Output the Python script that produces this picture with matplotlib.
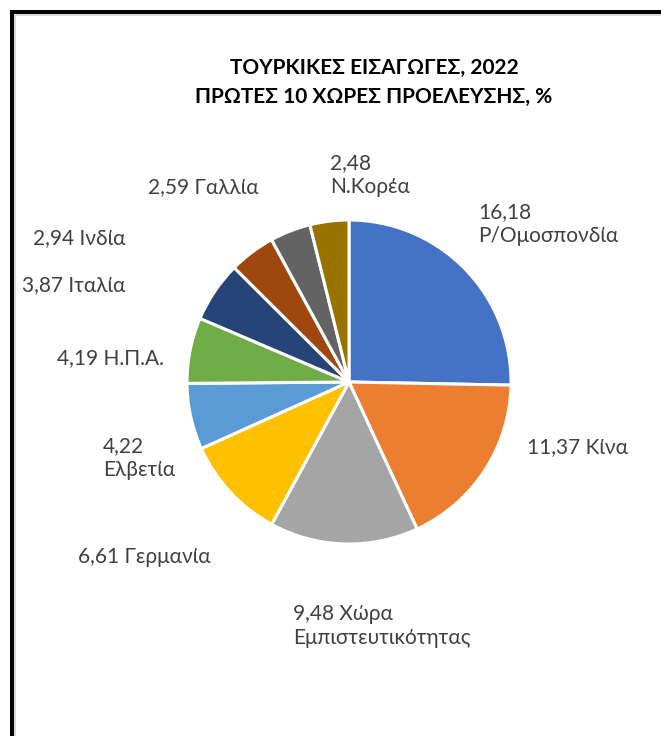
import matplotlib.pyplot as plt
from matplotlib.lines import Line2D

plt.rcParams['font.family'] = ['Lato', 'DejaVu Sans']

# data
xwres = ['Ρ/Ομοσπονδία', 'Κίνα', 'Χώρα\nΕμπιστευτικότητας', 'Γερμανία', 'Ελβετία',
         'Η.Π.Α.', 'Ιταλία', 'Ινδία', 'Γαλλία', 'Ν.Κορέα']
times = [16.18, 11.37, 9.48, 6.61, 4.22, 4.19, 3.87, 2.94, 2.59, 2.48]
sep = ['\n', ' ', ' ', ' ', '\n', ' ', ' ', ' ', ' ', '\n']
xrwmata = ['#4472C4', '#ED7D31', '#A5A5A5', '#FFC000', '#5B9BD5',
           '#70AD47', '#264478', '#9E480E', '#636363', '#997300']

# label positions in pixels (left edge, vertical center of block)
thesi = [(478, 224), (527, 447), (293, 626), (78, 557), (103, 458),
         (57, 358), (22, 285), (33, 238), (148, 187), (330, 175)]

W, H = 661, 736
fig = plt.figure(figsize=(W / 100, H / 100), dpi=100)

cx, cy, r = 349, 382, 162
ax = fig.add_axes([(cx - r) / W, (H - cy - r) / H, 2 * r / W, 2 * r / H])
ax.pie(times, colors=xrwmata, startangle=90, counterclock=False,
       wedgeprops=dict(edgecolor='white', linewidth=2.2))
ax.set_xlim(-1, 1)
ax.set_ylim(-1, 1)
ax.set_aspect('equal')
ax.axis('off')

for name, val, s, (px, py) in zip(xwres, times, sep, thesi):
    txt = f"{val:.2f}".replace('.', ',') + s + name
    fig.text(px / W, 1 - py / H, txt, ha='left', va='center', fontsize=15,
             color='#404040', linespacing=1.3)

fig.text(374 / W, 1 - 68 / H, 'ΤΟΥΡΚΙΚΕΣ ΕΙΣΑΓΩΓΕΣ, 2022', ha='center', va='center',
         fontsize=15, fontweight='bold', color='black')
fig.text(374 / W, 1 - 97 / H, 'ΠΡΩΤΕΣ 10 ΧΩΡΕΣ ΠΡΟΕΛΕΥΣΗΣ, %', ha='center', va='center',
         fontsize=15, fontweight='bold', color='black')

# frame (black border left and top, light inner shadow)
fig.add_artist(Line2D([12 / W, 12 / W], [0, 1 - 10 / H], color='black', lw=2.9,
                      transform=fig.transFigure, solid_capstyle='butt'))
fig.add_artist(Line2D([10 / W, 1], [1 - 12 / H, 1 - 12 / H], color='black', lw=2.9,
                      transform=fig.transFigure, solid_capstyle='butt'))
fig.add_artist(Line2D([15 / W, 15 / W], [0, 1 - 14 / H], color='#d9d9d9', lw=1.4,
                      transform=fig.transFigure, solid_capstyle='butt'))
fig.add_artist(Line2D([14 / W, 1], [1 - 15 / H, 1 - 15 / H], color='#d9d9d9', lw=1.4,
                      transform=fig.transFigure, solid_capstyle='butt'))

fig.savefig('out.png', dpi=100)
